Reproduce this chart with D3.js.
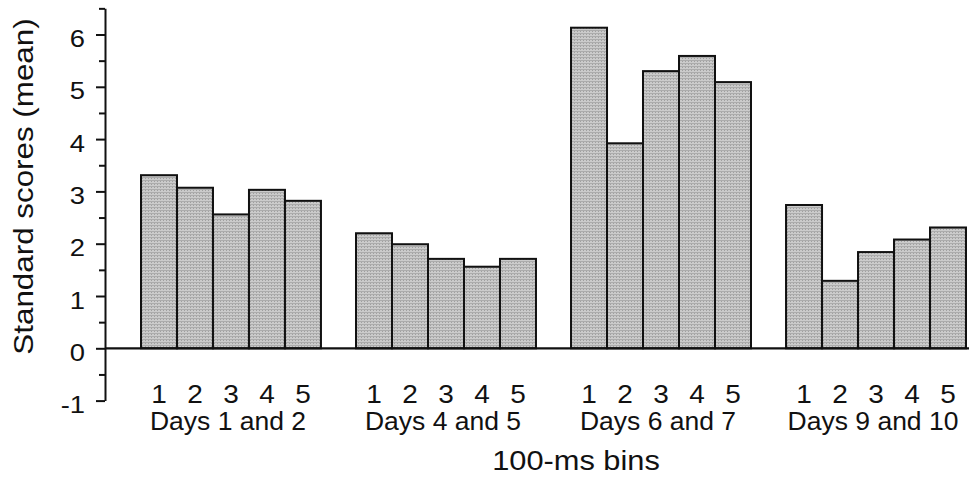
<!DOCTYPE html>
<html><head><meta charset="utf-8">
<script src="https://cdn.jsdelivr.net/npm/d3@7"></script>
<style>body{margin:0;background:#fff}svg{display:block}</style></head>
<body><svg id="c" width="969" height="487"></svg>
<script>
const groups = ["Days 1 and 2", "Days 4 and 5", "Days 6 and 7", "Days 9 and 10"];
const bins = ["1", "2", "3", "4", "5"];
const days12 = [3.31, 3.07, 2.56, 3.03, 2.82];
const days45 = [2.20, 1.99, 1.71, 1.56, 1.71];
const days67 = [6.13, 3.92, 5.30, 5.59, 5.09];
const days910 = [2.74, 1.29, 1.84, 2.08, 2.31];
const yTicks = [-1, 0, 1, 2, 3, 4, 5, 6];
const yMinorTicks = [-0.5, 0.5, 1.5, 2.5, 3.5, 4.5, 5.5, 6.5];
const xTitle = "100-ms bins";
const yTitle = "Standard scores (mean)";

const series = [days12, days45, days67, days910];
const data = [];
groups.forEach((g, gi) => bins.forEach((b, bi) => data.push({group: g, bin: b, value: series[gi][bi]})));

const svg = d3.select("#c");
const FONT = "'Liberation Sans', Arial, Helvetica, sans-serif";
const INK = "#111";

const defs = svg.append("defs");
const pat = defs.append("pattern").attr("id", "dots").attr("patternUnits", "userSpaceOnUse")
  .attr("width", 3).attr("height", 3);
pat.append("rect").attr("width", 3).attr("height", 3).attr("fill", "#cbcbcb");
pat.append("rect").attr("width", 3).attr("height", 1).attr("fill", "#acacac");
pat.append("rect").attr("x", 1).attr("y", 1).attr("width", 1).attr("height", 1).attr("fill", "#a0a0a0");

const axisX = 105;
const y = d3.scaleLinear().domain([-1, 6.5]).range([400.6, 8.35]);
const x0 = d3.scaleBand().domain(groups).range([141, 966]).paddingInner(0.163).paddingOuter(0);
const x1 = d3.scaleBand().domain(bins).range([0, x0.bandwidth()]).padding(0);

// bars
svg.append("g").selectAll("rect").data(data).join("rect")
  .attr("x", d => x0(d.group) + x1(d.bin))
  .attr("y", d => y(d.value))
  .attr("width", x1.bandwidth())
  .attr("height", d => y(0) - y(d.value))
  .attr("fill", "url(#dots)")
  .attr("stroke", INK)
  .attr("stroke-width", 2);

// baseline at 0
svg.append("line")
  .attr("x1", axisX).attr("x2", 969)
  .attr("y1", y(0)).attr("y2", y(0))
  .attr("stroke", INK).attr("stroke-width", 2.2);

// y axis major
const gy = svg.append("g").attr("transform", `translate(${axisX},0)`)
  .call(d3.axisLeft(y).tickValues(yTicks).tickSize(9).tickSizeOuter(0).tickFormat(d => String(d)));
gy.select(".domain").attr("stroke", INK).attr("stroke-width", 2);
gy.selectAll(".tick line").attr("stroke", INK).attr("stroke-width", 2);
gy.selectAll(".tick text")
  .attr("x", null).attr("dy", null)
  .attr("transform", "translate(-20,12) scale(1.14,1)")
  .attr("text-anchor", "end")
  .attr("fill", INK)
  .style("font-family", FONT).style("font-size", "24px");

// y axis minor
const gm = svg.append("g").attr("transform", `translate(${axisX},0)`)
  .call(d3.axisLeft(y).tickValues(yMinorTicks).tickSize(6).tickFormat(""));
gm.select(".domain").remove();
gm.selectAll(".tick line").attr("stroke", INK).attr("stroke-width", 2);

// bin labels
svg.append("g").selectAll("text").data(data).join("text")
  .attr("transform", d => `translate(${x0(d.group) + x1(d.bin) + x1.bandwidth() / 2},403) scale(1.12,1)`)
  .attr("text-anchor", "middle")
  .attr("fill", INK)
  .style("font-family", FONT).style("font-size", "25px")
  .text(d => d.bin);

// group labels
svg.append("g").selectAll("text").data(groups).join("text")
  .attr("transform", d => `translate(${x0(d) + x0.bandwidth() / 2 - 3},430) scale(1.06,1)`)
  .attr("text-anchor", "middle")
  .attr("fill", INK)
  .style("font-family", FONT).style("font-size", "25px")
  .text(d => d);

// x title
svg.append("text")
  .attr("transform", "translate(576,470) scale(1.1,1)")
  .attr("text-anchor", "middle")
  .attr("fill", INK)
  .style("font-family", FONT).style("font-size", "28px")
  .text(xTitle);

// y title
svg.append("text")
  .attr("transform", "translate(32.5,186.5) rotate(-90) scale(1.12,1)")
  .attr("text-anchor", "middle")
  .attr("fill", INK)
  .style("font-family", FONT).style("font-size", "28px")
  .text(yTitle);
</script>
</body></html>
